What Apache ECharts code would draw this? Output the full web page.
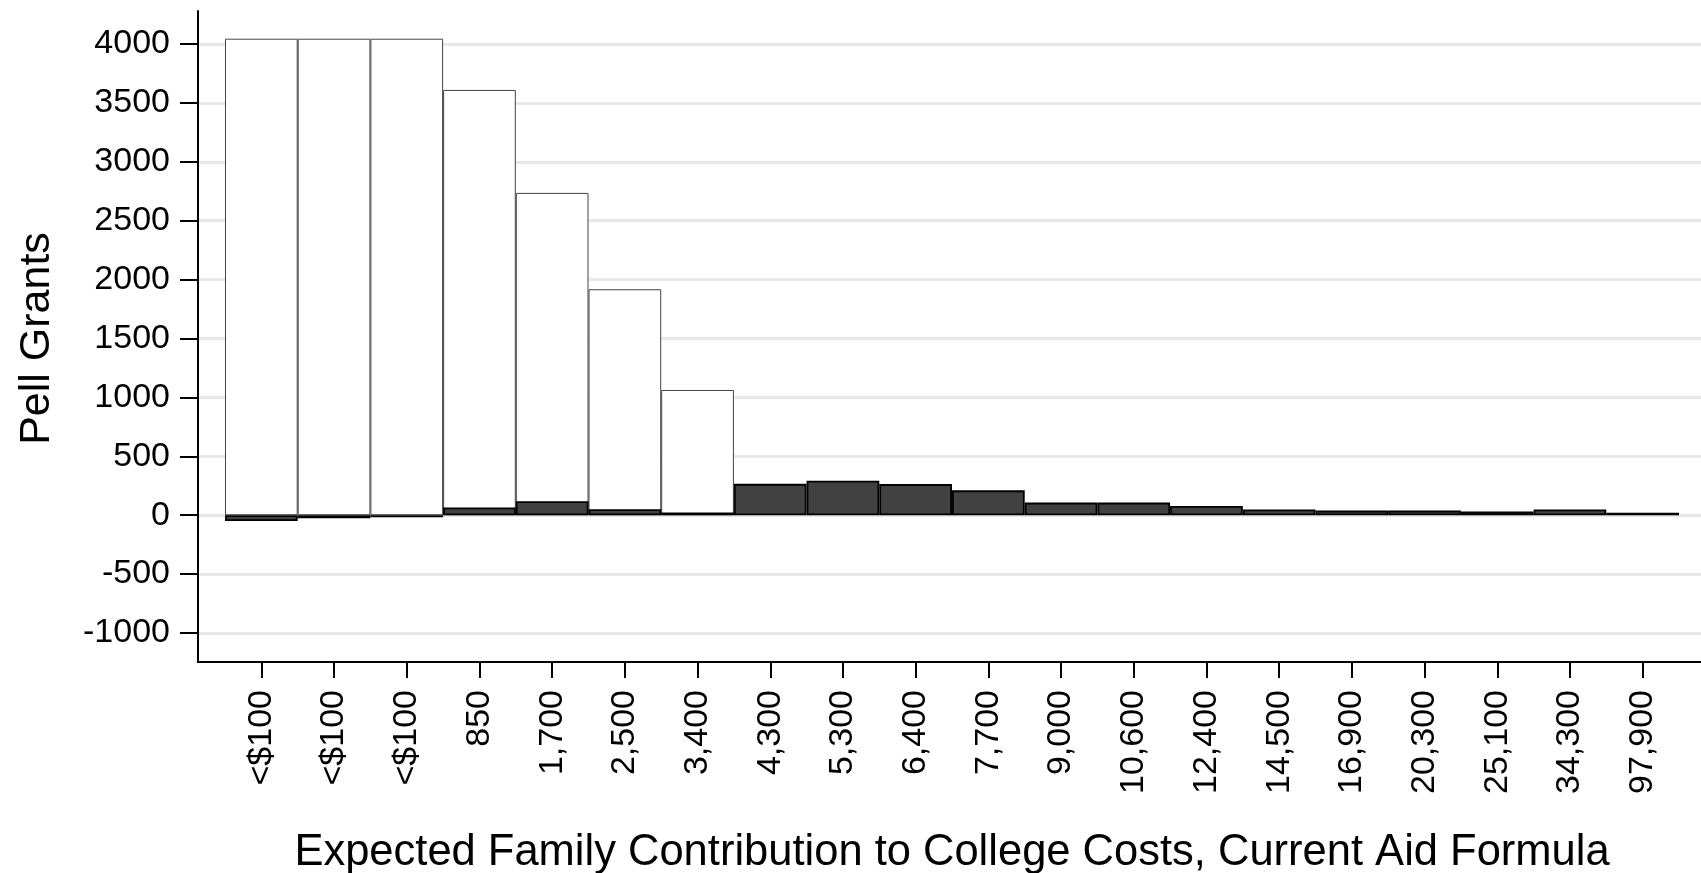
<!DOCTYPE html>
<html>
<head>
<meta charset="utf-8">
<title>Pell Grants</title>
<script src="https://cdn.jsdelivr.net/npm/echarts@6.0.0/dist/echarts.min.js"></script>
<style>
html, body { margin: 0; padding: 0; background: #fff; }
#barChart { width: 1701px; height: 873px; }
</style>
</head>
<body>
<div id="barChart"></div>
<script>
// EFC brackets (x axis)
var categories = ['<$100', '<$100', '<$100', '850', '1,700', '2,500', '3,400', '4,300', '5,300', '6,400',
    '7,700', '9,000', '10,600', '12,400', '14,500', '16,900', '20,300', '25,100', '34,300', '97,900'];
// white bars: grant under current formula
var currentGrant = [4045, 4045, 4045, 3610, 2736, 1918, 1063, '-', '-', '-',
    '-', '-', '-', '-', '-', '-', '-', '-', '-', '-'];
// dark bars: change
var grantChange = [-50, -26, -18, 65, 118, 50, 22, 266, 293, 264,
    211, 107, 107, 79, 48, 39, 39, 31, 48, 20];
// y ticks
var yMin = -1000;
var yMax = 4000;
var yStep = 500;

var fontName = "'Liberation Sans', Arial, sans-serif";
var black = '#000';

function getOption() {
    var option = {
        animation: false,
        backgroundColor: '#fff',
        // fixed pixel grids, no auto shrinking for labels
        grid: [
            { left: 198, right: 0, top: 11, bottom: 211, outerBoundsMode: 'none' },  // frame (axis lines)
            { left: 198, right: 0, top: 44, bottom: 240, outerBoundsMode: 'none' },  // y ticks + grid lines
            { left: 225, right: 22, top: 44, bottom: 240, outerBoundsMode: 'none' }  // bars
        ],
        xAxis: [
            {
                gridIndex: 0,
                type: 'value',
                min: 0,
                max: 1,
                axisLine: { show: true, onZero: false, lineStyle: { color: black, width: 2 } },
                axisTick: { show: false },
                axisLabel: { show: false },
                splitLine: { show: false }
            },
            {
                gridIndex: 1,
                type: 'value',
                min: 0,
                max: 1,
                show: false
            },
            {
                gridIndex: 2,
                type: 'category',
                data: categories,
                position: 'bottom',
                offset: 29,
                axisLine: { show: false, onZero: false },
                axisTick: {
                    show: true,
                    alignWithLabel: true,
                    length: 16,
                    lineStyle: { color: black, width: 2 }
                },
                axisLabel: {
                    interval: 0,
                    rotate: 90,
                    margin: 28,
                    fontSize: 34,
                    color: black,
                    fontFamily: fontName
                },
                splitLine: { show: false },
                name: 'Expected Family Contribution to College Costs, Current Aid Formula',
                nameLocation: 'middle',
                nameGap: 169,
                nameTextStyle: { fontSize: 43.5, color: black, fontFamily: fontName }
            }
        ],
        yAxis: [
            {
                gridIndex: 0,
                type: 'value',
                min: 0,
                max: 1,
                axisLine: { show: true, onZero: false, lineStyle: { color: black, width: 2 } },
                axisTick: { show: false },
                axisLabel: { show: false },
                splitLine: { show: false }
            },
            {
                gridIndex: 1,
                type: 'value',
                min: yMin,
                max: yMax,
                interval: yStep,
                axisLine: { show: false, onZero: false },
                axisTick: {
                    show: true,
                    length: 18,
                    lineStyle: { color: black, width: 2 }
                },
                axisLabel: {
                    margin: 28,
                    fontSize: 34,
                    color: black,
                    fontFamily: fontName,
                    formatter: function (v) {
                        return String(v);
                    }
                },
                splitLine: {
                    show: true,
                    lineStyle: { color: '#e8e8e8', width: 3 }
                },
                name: 'Pell Grants',
                nameLocation: 'middle',
                nameGap: 139,
                nameTextStyle: { fontSize: 43, color: black, fontFamily: fontName }
            },
            {
                gridIndex: 2,
                type: 'value',
                min: yMin,
                max: yMax,
                show: false
            }
        ],
        series: [
            {
                name: 'Current formula',
                type: 'bar',
                xAxisIndex: 2,
                yAxisIndex: 2,
                data: currentGrant,
                clip: false,
                barWidth: '100%',
                barCategoryGap: '0%',
                itemStyle: { color: '#fff', borderColor: '#444', borderWidth: 1 }
            },
            {
                name: 'Change',
                type: 'bar',
                xAxisIndex: 2,
                yAxisIndex: 2,
                data: grantChange,
                clip: false,
                barWidth: '100%',
                barGap: '-100%',
                itemStyle: { color: '#414141', borderColor: black, borderWidth: 1.8 }
            }
        ]
    };
    return option;
}

var myChart = echarts.init(document.getElementById('barChart'));
myChart.setOption(getOption());
</script>
</body>
</html>
